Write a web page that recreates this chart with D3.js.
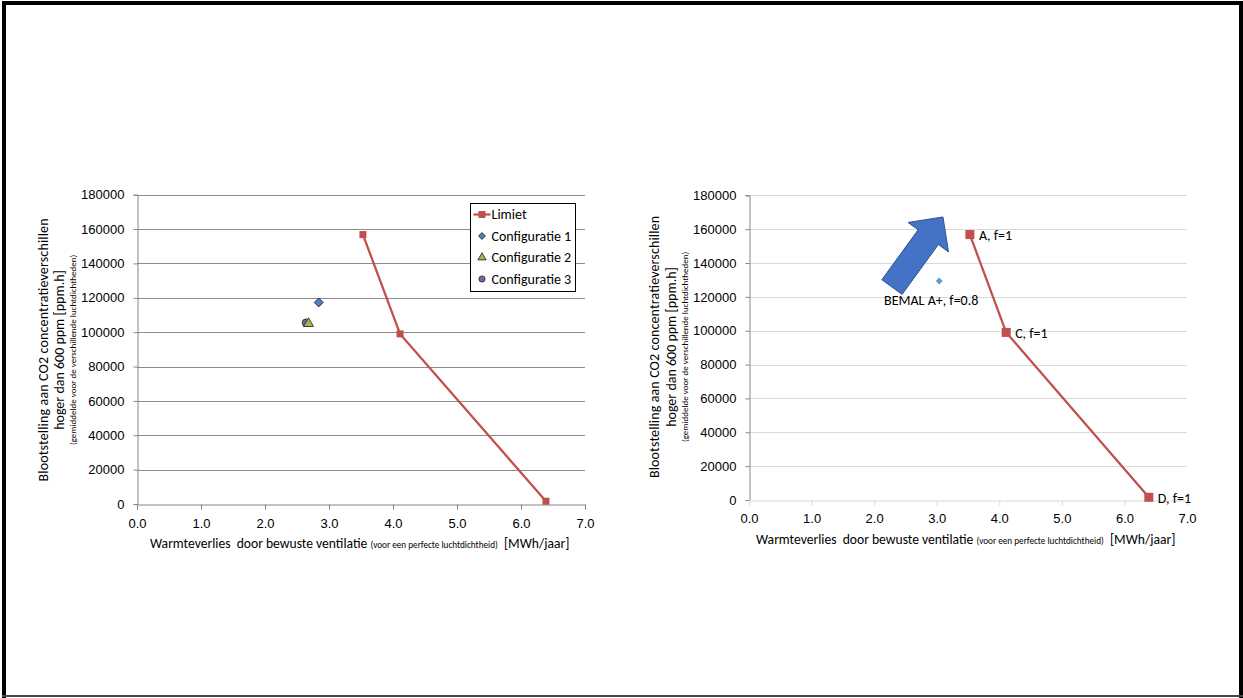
<!DOCTYPE html>
<html>
<head>
<meta charset="utf-8">
<script src="https://cdn.jsdelivr.net/npm/d3@7"></script>
<style>
  html, body { margin: 0; padding: 0; background: #fff; }
  svg { display: block; font-family: Carlito, Calibri, Lato, sans-serif; }
</style>
</head>
<body>
<svg id="slide" width="1243" height="698"></svg>
<script>
// ---- data ----
const xTickValues = [0, 1, 2, 3, 4, 5, 6, 7];
const yTickValues = [0, 20000, 40000, 60000, 80000, 100000, 120000, 140000, 160000, 180000];

// limit curve (heat loss [MWh/year], CO2 exposure [ppm.h])
const limietX = [3.53, 4.11, 6.39];
const limietY = [156800, 99000, 1600];
const limietLabels = ["A, f=1", "C, f=1", "D, f=1"];

// ventilation configurations
const configNames = ["Configuratie 1", "Configuratie 2", "Configuratie 3"];
const configX = [2.84, 2.68, 2.64];
const configY = [117300, 105000, 105500];

// BEMAL A+ system
const bemalX = [3.04];
const bemalY = [129400];
const bemalLabels = ["BEMAL A+, f=0.8"];

// improvement arrow (tail centre -> tip, in data units)
const arrowFrom = [2.285, 125800];
const arrowTo = [3.10, 167200];

const yTitle = ["Blootstelling aan CO2 concentratieverschillen", "hoger dan 600 ppm [ppm.h]",
                "(gemiddelde voor de verschillende luchtdichtheden)"];
const xTitle = ["Warmteverlies  door bewuste ventilatie", "(voor een perfecte luchtdichtheid)", "  [MWh/jaar]"];

const svg = d3.select("#slide");

// slide frame
svg.append("rect").attr("x", 0).attr("y", 0).attr("width", 1243).attr("height", 698).attr("fill", "#fff");
svg.append("rect").attr("x", 2).attr("y", 1).attr("width", 1241).attr("height", 4).attr("fill", "#000");
svg.append("rect").attr("x", 2).attr("y", 1).attr("width", 4).attr("height", 697).attr("fill", "#000");
svg.append("rect").attr("x", 1239).attr("y", 1).attr("width", 4).attr("height", 697).attr("fill", "#000");
svg.append("rect").attr("x", 2).attr("y", 695).attr("width", 1241).attr("height", 2).attr("fill", "#444");

const limietColor = "#C0504D";
const configColors = ["#4F81BD", "#9BBB59", "#8064A2"];
const configSymbols = [d3.symbolSquare, d3.symbolTriangle, d3.symbolCircle];
const configRot = [45, 0, 0];

function drawPanel(opt) {
  const g = svg.append("g");
  const x = d3.scaleLinear().domain([0, 7]).range([opt.x0, opt.x1]);
  const y = d3.scaleLinear().domain([0, 180000]).range([opt.y0, opt.y1]);

  // horizontal gridlines
  g.append("g").selectAll("line").data(yTickValues.filter(v => v > 0)).join("line")
    .attr("x1", opt.x0).attr("x2", opt.x1)
    .attr("y1", d => Math.round(y(d)) + 0.5).attr("y2", d => Math.round(y(d)) + 0.5)
    .attr("stroke", opt.gridColor).attr("stroke-width", 1);

  // y axis
  const yAxis = d3.axisLeft(y).tickValues(yTickValues).tickFormat(d3.format("d")).tickSize(4).tickPadding(opt.yPad);
  const ya = g.append("g").attr("transform", `translate(${Math.round(opt.x0) + 0.5},0)`).call(yAxis);
  ya.select(".domain").attr("stroke", "#868686");
  ya.selectAll(".tick line").attr("stroke", "#868686");
  ya.selectAll("text").attr("font-size", 13).attr("fill", opt.textColor);

  // x axis
  const xAxis = d3.axisBottom(x).tickValues(xTickValues).tickFormat(d3.format(".1f")).tickSize(5).tickPadding(opt.xPad);
  const xa = g.append("g").attr("transform", `translate(0,${Math.round(opt.y0) + 0.5})`).call(xAxis);
  xa.select(".domain").attr("stroke", opt.xAxisColor);
  xa.selectAll(".tick line").attr("stroke", opt.xAxisColor);
  xa.selectAll("text").attr("font-size", 13).attr("fill", opt.textColor);

  // y title (three rotated lines)
  const yt = g.append("g").attr("fill", opt.textColor);
  const sizes = [14, 14, 9];
  yTitle.forEach((txt, k) => {
    const t = yt.append("text")
      .attr("transform", `translate(${opt.yTitleX[k]},${opt.yTitleY}) rotate(-90)`)
      .attr("text-anchor", "middle").attr("dominant-baseline", "central")
      .attr("font-size", sizes[k]).text(txt);
    if (opt.yTitleLen[k]) t.attr("textLength", opt.yTitleLen[k]).attr("lengthAdjust", "spacing");
  });

  // x title with small parenthetical
  const xt = g.append("text").attr("x", opt.xTitleX).attr("y", opt.xTitleY)
    .attr("fill", opt.textColor).attr("font-size", 13.6).attr("xml:space", "preserve");
  xt.append("tspan").text(xTitle[0] + " ");
  xt.append("tspan").attr("font-size", 9.2).text(xTitle[1]);
  xt.append("tspan").text(xTitle[2]);

  // limit line
  const pts = limietX.map((v, i) => [x(v), y(limietY[i])]);
  g.append("path").attr("d", d3.line()(pts)).attr("fill", "none")
    .attr("stroke", limietColor).attr("stroke-width", 2.25);
  g.append("g").selectAll("rect").data(pts).join("rect")
    .attr("x", d => d[0] - opt.sq / 2).attr("y", d => d[1] - opt.sq / 2)
    .attr("width", opt.sq).attr("height", opt.sq).attr("fill", limietColor);

  return { g, x, y, pts };
}

// ---- left panel ----
const L = drawPanel({
  x0: 137, x1: 585, y0: 504, y1: 194.7, yPad: 9, xPad: 9,
  gridColor: "#8C8C8C", xAxisColor: "#868686", textColor: "#000",
  yTitleX: [43, 59, 72], yTitleY: 350, yTitleLen: [263, 0, 0],
  xTitleX: 150, xTitleY: 548, sq: 7
});

// configuration markers (drawn 3 -> 1 so the diamond sits on top)
[2, 1, 0].forEach(i => {
  L.g.append("path")
    .attr("d", d3.symbol(configSymbols[i], i === 0 ? 40 : 44)())
    .attr("transform", `translate(${L.x(configX[i])},${L.y(configY[i])}) rotate(${configRot[i]})`)
    .attr("fill", configColors[i]).attr("stroke", "#1F1F1F").attr("stroke-width", 0.8);
});

// legend
const leg = L.g.append("g").attr("transform", "translate(470.5,203.5)");
leg.append("rect").attr("width", 105).attr("height", 88).attr("fill", "#fff")
  .attr("stroke", "#000").attr("stroke-width", 1);
leg.append("line").attr("x1", 3).attr("x2", 20).attr("y1", 11).attr("y2", 11)
  .attr("stroke", limietColor).attr("stroke-width", 2.25);
leg.append("rect").attr("x", 8).attr("y", 7.5).attr("width", 7).attr("height", 7).attr("fill", limietColor);
leg.append("text").attr("x", 21).attr("y", 11).attr("dominant-baseline", "central")
  .attr("font-size", 14).text("Limiet");
configNames.forEach((name, i) => {
  const cy = 32.5 + i * 21.5;
  leg.append("path").attr("d", d3.symbol(configSymbols[i], i === 0 ? 24 : 30)())
    .attr("transform", `translate(11.5,${cy}) rotate(${configRot[i]})`)
    .attr("fill", configColors[i]).attr("stroke", "#1F1F1F").attr("stroke-width", 0.8);
  leg.append("text").attr("x", 21).attr("y", cy).attr("dominant-baseline", "central")
    .attr("font-size", 14).text(name);
});

// ---- right panel ----
const R = drawPanel({
  x0: 749, x1: 1187, y0: 500, y1: 195.3, yPad: 9, xPad: 8,
  gridColor: "#D9D9D9", xAxisColor: "#D9D9D9", textColor: "#000",
  yTitleX: [654, 671, 684], yTitleY: 347, yTitleLen: [262, 0, 0],
  xTitleX: 756, xTitleY: 544, sq: 9
});

// point labels on the limit curve
R.g.append("g").selectAll("text").data(R.pts).join("text")
  .attr("x", d => d[0] + 9).attr("y", d => d[1] + 1)
  .attr("dominant-baseline", "central").attr("font-size", 14)
  .text((d, i) => limietLabels[i]);

// BEMAL point and label
bemalX.forEach((v, i) => {
  const px = R.x(v), py = R.y(bemalY[i]);
  R.g.append("path").attr("d", d3.symbol(d3.symbolSquare, 24)())
    .attr("transform", `translate(${px},${py}) rotate(45)`).attr("fill", "#5B9BD5");
  R.g.append("text").attr("x", px - 8).attr("y", py + 20).attr("text-anchor", "middle")
    .attr("dominant-baseline", "central").attr("font-size", 14).text(bemalLabels[i]);
});

// block arrow
(function () {
  const t = [R.x(arrowFrom[0]), R.y(arrowFrom[1])];
  const h = [R.x(arrowTo[0]), R.y(arrowTo[1])];
  const dx = h[0] - t[0], dy = h[1] - t[1];
  const len = Math.hypot(dx, dy);
  const ux = dx / len, uy = dy / len, px = -uy, py = ux;
  const shaftW = 25, headW = 50, headL = 25;
  const n = [h[0] - ux * headL, h[1] - uy * headL];
  const p = (b, s) => [b[0] + px * s, b[1] + py * s];
  const poly = [p(t, shaftW / 2), p(n, shaftW / 2), p(n, headW / 2), h,
                p(n, -headW / 2), p(n, -shaftW / 2), p(t, -shaftW / 2)];
  R.g.append("path").attr("d", d3.line()(poly) + "Z")
    .attr("fill", "#4472C4").attr("stroke", "#2F528F").attr("stroke-width", 1);
})();
</script>
</body>
</html>
